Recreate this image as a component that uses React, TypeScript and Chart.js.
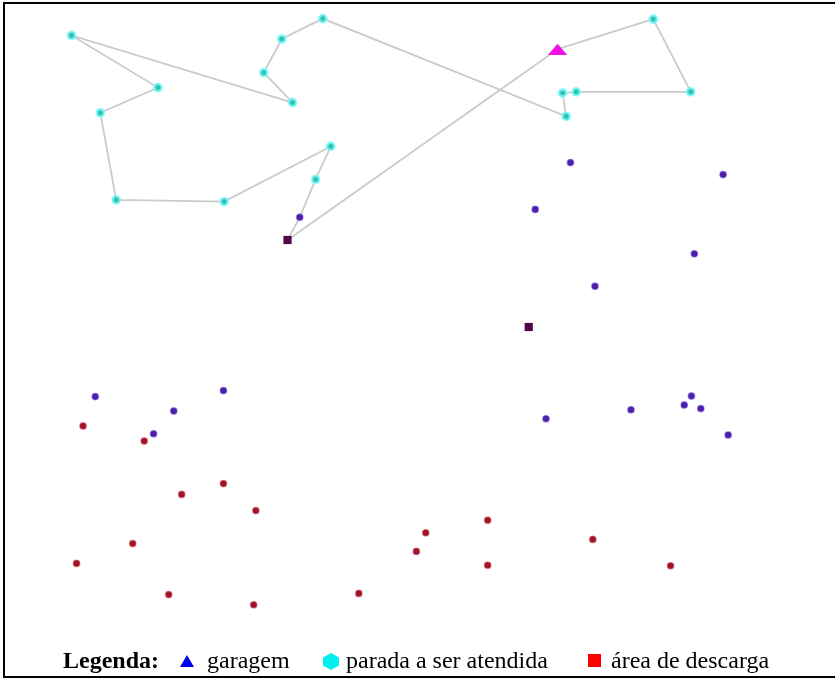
import React, { useEffect, useRef } from "react";
import { Chart, registerables } from "chart.js";

Chart.register(...registerables);

// Map coordinates (0–100 units in both directions)
// Vehicle route, in visiting order, starting and ending at the garage
const routeX = [69.1, 82.4, 87.6, 71.7, 69.8, 70.3, 36.5, 30.8, 28.3, 32.3, 1.6, 13.6, 5.6, 7.8, 22.8, 37.6, 35.5, 33.3, 31.6, 69.1];
const routeY = [94.3, 99.3, 87.2, 87.2, 87.0, 83.1, 99.4, 96.0, 90.4, 85.4, 96.6, 87.9, 83.7, 69.2, 68.9, 78.1, 72.6, 66.3, 62.5, 94.3];

// Garage
const garageX = [69.1];
const garageY = [94.3];

// Stops to be served (cyan)
const stopX = [82.4, 87.6, 71.7, 69.8, 70.3, 36.5, 30.8, 28.3, 32.3, 1.6, 13.6, 5.6, 7.8, 22.8, 37.6, 35.5];
const stopY = [99.3, 87.2, 87.2, 87.0, 83.1, 99.4, 96.0, 90.4, 85.4, 96.6, 87.9, 83.7, 69.2, 68.9, 78.1, 72.6];

// Other demand points (purple)
const purpleX = [33.3, 70.9, 92.1, 66.0, 88.1, 74.3, 67.5, 79.3, 86.7, 87.7, 89.0, 92.8, 4.9, 22.7, 15.8, 13.0];
const purpleY = [66.3, 75.4, 73.4, 67.6, 60.2, 54.8, 32.7, 34.2, 35.0, 36.5, 34.4, 30.0, 36.4, 37.4, 34.0, 30.2];

// Unloading areas (dark squares)
const squareX = [31.6, 65.1];
const squareY = [62.5, 48.0];

// Red points
const redX = [3.2, 11.7, 16.9, 22.7, 27.2, 10.1, 2.3, 15.1, 26.9, 41.5, 49.5, 50.8, 59.4, 59.4, 74.0, 84.8];
const redY = [31.5, 29.0, 20.1, 21.9, 17.4, 11.9, 8.6, 3.4, 1.7, 3.6, 10.6, 13.7, 15.8, 8.3, 12.6, 8.2];

// Legend
const legendTitle = "Legenda:";
const legendLabels = ["garagem", "parada a ser atendida", "área de descarga"];

const pts = (xs: number[], ys: number[]) => xs.map((x, i) => ({ x, y: ys[i] }));

function triangleImage() {
  const c = document.createElement("canvas");
  c.width = 19;
  c.height = 11;
  const g = c.getContext("2d")!;
  g.fillStyle = "#ee10e8";
  g.beginPath();
  g.moveTo(9.5, 0);
  g.lineTo(19, 11);
  g.lineTo(0, 11);
  g.closePath();
  g.fill();
  return c;
}

export default function App() {
  const ref = useRef<HTMLCanvasElement | null>(null);

  useEffect(() => {
    if (!ref.current) return;
    const chart = new Chart(ref.current, {
      type: "scatter",
      data: {
        datasets: [
          {
            label: "garagem",
            data: pts(garageX, garageY),
            pointStyle: triangleImage() as any,
            pointRadius: 8,
            order: 0,
            clip: false as any,
          },
          {
            label: "parada",
            data: pts(stopX, stopY),
            backgroundColor: "#38bcac",
            borderColor: "rgba(110,250,250,0.8)",
            borderWidth: 2.5,
            pointRadius: 3.6,
            order: 1,
            clip: false as any,
          },
          {
            label: "área",
            data: pts(squareX, squareY),
            pointStyle: "rect",
            backgroundColor: "#520848",
            borderColor: "#520848",
            borderWidth: 0,
            pointRadius: 5.8,
            order: 1,
            clip: false as any,
          },
          {
            label: "roxo",
            data: pts(purpleX, purpleY),
            backgroundColor: "#4a20a8",
            borderColor: "rgba(120,80,220,0.55)",
            borderWidth: 1.2,
            pointRadius: 3.3,
            order: 2,
            clip: false as any,
          },
          {
            label: "vermelho",
            data: pts(redX, redY),
            backgroundColor: "#a01428",
            borderColor: "rgba(210,80,100,0.55)",
            borderWidth: 1.2,
            pointRadius: 3.3,
            order: 2,
            clip: false as any,
          },
          {
            label: "rota",
            data: pts(routeX, routeY),
            showLine: true,
            borderColor: "#cbcbcb",
            borderWidth: 1.8,
            pointRadius: 0,
            fill: false,
            tension: 0,
            order: 10,
            clip: false as any,
          },
        ],
      },
      options: {
        animation: false,
        responsive: false,
        events: [],
        layout: { padding: { left: 60, right: 55, top: 15, bottom: 63 }, autoPadding: false } as any,
        plugins: { legend: { display: false }, tooltip: { enabled: false } },
        scales: {
          x: { type: "linear", min: 0, max: 100, display: false },
          y: { type: "linear", min: 0, max: 100, display: false },
        },
      },
    });
    return () => chart.destroy();
  }, []);

  const font = '"Liberation Serif", "Times New Roman", serif';
  const textStyle: React.CSSProperties = {
    position: "absolute",
    top: 647,
    fontFamily: font,
    fontSize: 24,
    lineHeight: "26px",
    color: "#000",
    whiteSpace: "nowrap",
  };

  return (
    <div style={{ position: "fixed", left: 0, top: 0, width: 835, height: 678, background: "#fff", overflow: "hidden" }}>
      <canvas ref={ref} width={835} height={678} style={{ position: "absolute", left: 0, top: 0 }} />
      <div
        style={{
          position: "absolute",
          left: 3,
          top: 2,
          width: 840,
          height: 672,
          borderLeft: "2px solid #000",
          borderTop: "2px solid #000",
          borderBottom: "2px solid #000",
        }}
      />
      <span style={{ ...textStyle, left: 63, fontWeight: "bold" }}>{legendTitle}</span>
      <div
        style={{
          position: "absolute",
          left: 180,
          top: 655,
          width: 0,
          height: 0,
          borderLeft: "7.5px solid transparent",
          borderRight: "7.5px solid transparent",
          borderBottom: "12px solid #0000ee",
        }}
      />
      <span style={{ ...textStyle, left: 207 }}>{legendLabels[0]}</span>
      <svg style={{ position: "absolute", left: 322, top: 653 }} width={18} height={17}>
        <polygon points="9,0 17,4.5 17,12.5 9,17 1,12.5 1,4.5" fill="#00f0f0" />
      </svg>
      <span style={{ ...textStyle, left: 346 }}>{legendLabels[1]}</span>
      <div style={{ position: "absolute", left: 588, top: 654, width: 13, height: 13, background: "#ff0000" }} />
      <span style={{ ...textStyle, left: 611 }}>{legendLabels[2]}</span>
    </div>
  );
}
